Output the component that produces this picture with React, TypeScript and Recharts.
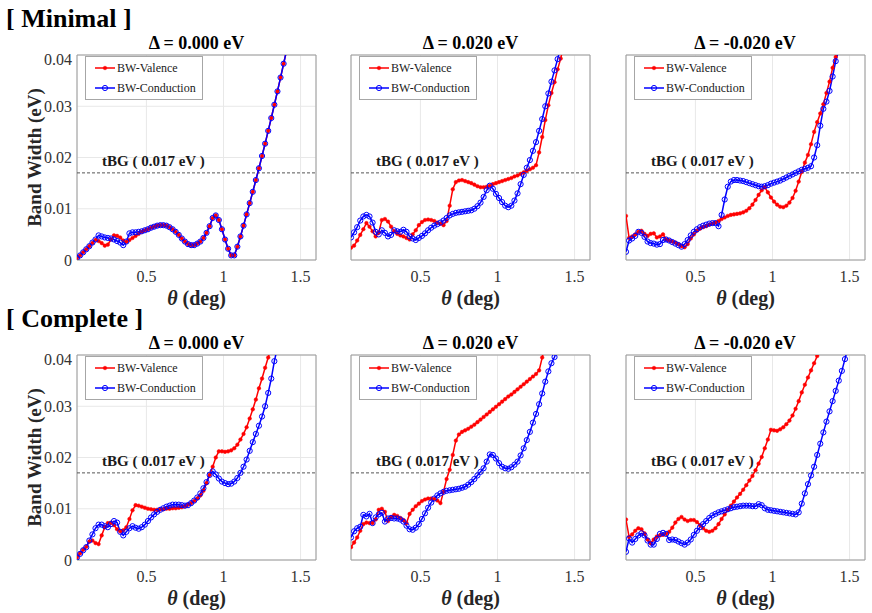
import React from 'react';
import { LineChart, Line, XAxis, YAxis, CartesianGrid, ReferenceLine, ReferenceArea, Legend } from 'recharts';

// twist angle theta (deg)
const thetas = [
  0.05, 0.07, 0.09, 0.11, 0.13, 0.15, 0.17, 0.19, 0.21, 0.23,
  0.25, 0.27, 0.29, 0.31, 0.33, 0.35, 0.37, 0.39, 0.41, 0.43,
  0.45, 0.47, 0.49, 0.51, 0.53, 0.55, 0.57, 0.59, 0.61, 0.63,
  0.65, 0.67, 0.69, 0.71, 0.73, 0.75, 0.77, 0.79, 0.81, 0.83,
  0.85, 0.87, 0.89, 0.91, 0.93, 0.95, 0.97, 0.99, 1.01, 1.03,
  1.05, 1.07, 1.09, 1.11, 1.13, 1.15, 1.17, 1.19, 1.21, 1.23,
  1.25, 1.27, 1.29, 1.31, 1.33, 1.35, 1.37, 1.39, 1.41, 1.43,
  1.45, 1.47, 1.49, 1.51,
];

const xTicks = [0.5, 1, 1.5];
const yTicks = [0, 0.01, 0.02, 0.03, 0.04];
const tbgWidth = 0.017;

// band widths in meV
const minimalZeroValence = [0.4,0.9,1.5,2.1,2.7,3.3,3.9,3.7,3.3,2.8,3.0,4.0,4.8,4.7,4.4,3.8,3.5,3.9,4.3,4.7,5.1,5.5,5.8,6.0,6.3,6.5,6.7,6.8,6.8,6.7,6.4,6.0,5.5,4.9,4.2,3.6,3.1,2.9,2.9,3.2,3.6,4.3,5.3,6.6,8.2,8.7,7.8,6.0,4.0,2.2,0.9,0.9,2.6,4.6,6.7,8.9,11.1,13.3,15.6,17.9,20.3,22.7,25.2,27.7,30.3,32.9,35.6,38.3,41.0];
const minimalZeroConduction = [0.4,0.9,1.5,2.1,2.7,3.4,4.0,4.8,4.6,4.4,4.3,4.2,4.0,3.7,3.4,2.9,3.6,5.2,5.4,5.4,5.5,5.6,5.8,6.0,6.3,6.5,6.7,6.8,6.8,6.7,6.4,6.0,5.5,4.9,4.2,3.6,3.1,2.9,2.9,3.2,3.6,4.3,5.3,6.6,8.2,8.7,7.8,6.0,4.0,2.2,0.9,0.9,2.6,4.6,6.7,8.9,11.1,13.3,15.6,17.9,20.3,22.7,25.2,27.7,30.3,32.9,35.6,38.3,41.0];

const minimalPosValence = [2.4,2.8,3.8,4.9,6.0,7.2,6.5,5.6,4.6,5.4,7.8,8.0,7.5,6.5,5.6,5.1,4.8,4.6,4.3,4.0,5.0,5.8,6.8,7.4,7.8,7.9,7.8,7.6,7.3,7.1,6.8,7.6,10.6,13.8,15.2,15.5,15.6,15.4,15.2,15.0,14.7,14.4,14.2,14.2,14.3,14.5,14.8,15.0,15.2,15.4,15.6,15.8,16.0,16.3,16.5,16.8,17.1,17.4,17.7,18.0,18.5,21.0,24.0,27.3,30.2,32.6,34.7,37.2,39.3,42.0];
const minimalPosConduction = [4.4,5.4,6.4,7.7,8.5,8.8,8.5,7.3,5.5,5.0,5.8,5.3,4.6,4.9,5.8,5.6,5.5,5.9,5.5,4.6,4.2,3.9,4.3,4.7,5.2,5.8,6.3,6.7,7.0,7.3,7.7,8.2,8.7,9.0,9.2,9.3,9.4,9.5,9.6,9.7,10.0,10.5,11.2,12.3,13.6,14.5,13.9,12.9,12.1,11.3,10.6,10.3,10.6,11.6,13.0,14.8,16.6,18.0,19.5,21.3,23.0,25.2,27.5,30.0,32.5,34.8,37.0,39.2,41.5];

const minimalNegValence = [8.6,4.3,4.6,5.0,5.5,5.7,5.1,4.7,5.1,5.2,4.4,4.6,5.0,4.0,3.8,3.6,3.4,3.1,2.7,2.5,3.1,4.2,5.0,5.7,6.1,6.4,6.6,6.9,7.1,7.3,7.6,8.0,8.3,8.6,8.8,8.9,9.0,9.1,9.3,9.6,10.1,10.8,11.7,12.7,13.6,14.2,13.2,12.2,11.4,10.8,10.4,10.3,10.6,11.2,12.1,13.5,15.3,17.2,19.0,20.5,22.6,25.0,26.9,28.6,30.4,32.6,34.8,37.5,39.6,42.0];
const minimalNegConduction = [1.6,3.8,4.2,4.7,5.5,5.3,4.5,3.6,3.3,3.2,3.0,3.1,3.9,4.0,3.8,3.5,3.2,2.9,2.6,3.1,3.9,4.8,5.5,6.0,6.4,6.7,6.9,7.1,7.2,7.2,6.6,8.8,11.8,14.3,15.3,15.6,15.6,15.5,15.4,15.2,15.0,14.8,14.6,14.4,14.3,14.4,14.6,14.9,15.1,15.3,15.5,15.8,16.1,16.4,16.7,17.0,17.3,17.6,17.8,18.0,18.3,20.0,22.4,26.2,29.5,30.9,33.0,35.8,38.8,41.0];

const completeZeroValence = [0.5,1.3,2.0,2.6,3.6,3.8,3.3,3.1,4.8,6.4,7.2,7.3,6.8,6.0,5.6,5.8,6.4,8.0,9.7,10.7,10.6,10.4,10.2,10.0,9.9,9.8,9.8,9.9,9.9,10.0,10.0,10.1,10.1,10.2,10.3,10.5,10.8,11.1,11.5,12.0,12.6,13.5,15.0,16.6,18.2,20.0,21.2,21.2,21.1,21.2,21.4,21.8,22.5,23.5,24.6,25.9,27.6,29.4,31.3,33.5,35.4,37.5,39.5,41.5];
const completeZeroConduction = [0.5,1.2,1.9,2.5,3.8,5.0,6.2,6.9,6.9,6.6,6.4,7.0,7.6,7.3,5.5,4.8,5.5,6.2,6.6,6.3,6.1,6.4,6.9,7.6,8.3,8.9,9.4,9.8,10.1,10.4,10.6,10.8,10.8,10.8,10.7,10.6,10.7,11.1,11.6,12.2,13.0,14.0,15.2,16.6,17.3,16.7,15.9,15.3,15.0,14.8,14.9,15.3,16.0,17.0,18.2,19.6,21.3,23.0,24.6,26.2,28.0,30.0,32.6,35.4,38.8,41.5];

const completePosValence = [2.5,3.4,4.4,5.7,7.0,7.3,7.2,7.2,7.9,9.8,10.0,9.4,7.6,8.4,8.8,8.6,8.2,7.8,7.2,9.0,9.8,10.5,11.0,11.5,11.8,12.0,12.0,11.9,11.6,11.1,13.3,15.8,17.6,20.5,23.3,24.5,25.0,25.3,25.6,26.0,26.4,26.9,27.4,27.9,28.4,28.9,29.4,29.9,30.4,30.9,31.4,31.9,32.3,32.8,33.3,33.8,34.3,34.8,35.3,35.8,36.3,37.0,39.5,42.0];
const completePosConduction = [4.4,5.6,6.2,6.5,8.8,8.5,9.0,7.2,8.3,8.9,9.2,7.5,8.1,8.2,8.1,8.1,7.9,7.5,6.7,6.0,5.9,6.3,7.0,8.0,9.1,10.2,11.2,12.0,12.6,13.0,13.3,13.5,13.6,13.7,13.8,13.9,14.1,14.3,14.7,15.2,15.8,16.5,17.2,17.9,19.2,20.6,20.5,19.8,18.9,18.2,17.9,17.8,18.1,18.6,19.2,20.4,21.8,23.4,25.0,26.8,28.5,30.4,32.5,34.8,36.8,38.4,39.6,41.5];

const completeNegValence = [7.9,4.5,5.0,5.7,6.2,6.0,5.2,4.0,3.3,4.0,4.6,4.8,4.9,5.1,5.5,6.3,7.3,8.0,8.4,7.9,7.6,7.8,7.8,7.4,6.8,6.2,5.7,5.5,5.7,6.2,7.0,8.0,8.9,9.8,10.6,11.4,12.2,12.9,13.7,14.6,15.5,16.4,17.5,18.8,20.1,21.8,23.5,25.4,25.3,25.2,25.5,25.9,26.5,27.2,28.2,29.5,31.0,32.7,34.2,35.6,37.0,38.4,39.8,41.5];
const completeNegConduction = [1.6,4.2,3.4,4.1,4.8,5.2,4.8,3.8,3.0,3.0,4.1,5.1,5.3,5.1,3.9,4.0,3.9,3.6,3.3,3.0,3.4,4.0,4.9,5.7,6.4,7.0,7.6,8.2,8.7,9.0,9.3,9.5,9.7,9.9,10.1,10.3,10.4,10.5,10.6,10.6,10.6,10.5,10.5,10.9,10.7,10.1,9.8,9.7,9.6,9.5,9.4,9.3,9.2,9.1,9.0,8.9,9.3,11.0,13.0,14.8,16.5,18.2,20.5,22.7,24.9,27.0,29.0,31.0,33.0,35.0,36.9,39.2,41.5];

const FONT = '"Liberation Serif", "Times New Roman", Times, serif';
const PLOT_W = 239;
const PLOT_H = 205;
const M_TOP = 5;
const M_RIGHT = 5;
const X_H = 54;
const RED = '#ff0000';
const BLUE = '#0000ff';

const TbgLabel = (props: any) => {
  const vb = props.viewBox || { x: 0, y: 0 };
  return (
    <text x={vb.x + 25} y={vb.y - 7} fontFamily={FONT} fontSize={15} fontWeight="bold" fill="#1a1a1a">
      tBG ( 0.017 eV )
    </text>
  );
};

const XLabel = (props: any) => {
  const vb = props.viewBox || { x: 0, y: 0, width: 0 };
  return (
    <text x={vb.x + vb.width / 2} y={vb.y + 45} textAnchor="middle" fontFamily={FONT} fontSize={20} fontWeight="bold" fill="#262626">
      <tspan fontStyle="italic">θ</tspan> (deg)
    </text>
  );
};

const YLabel = (props: any) => {
  const vb = props.viewBox || { x: 0, y: 0, height: 0 };
  const cx = vb.x + 34;
  const cy = vb.y + vb.height / 2;
  return (
    <text x={cx} y={cy} transform={`rotate(-90 ${cx} ${cy})`} textAnchor="middle" dominantBaseline="central" fontFamily={FONT} fontSize={19} fontWeight="bold" fill="#262626">
      Band Width (eV)
    </text>
  );
};

const LegendBox = () => (
  <svg width={118} height={44} style={{ display: 'block' }}>
    <rect x={0.5} y={0.5} width={117} height={43} fill="#ffffff" stroke="#a6a6a6" strokeWidth={1} />
    <line x1={10} y1={12} x2={30} y2={12} stroke={RED} strokeWidth={1.5} />
    <circle cx={20} cy={12} r={1.8} fill={RED} stroke={RED} strokeWidth={0.5} />
    <text x={32} y={16} fontFamily={FONT} fontSize={12} fill="#1a1a1a">BW-Valence</text>
    <line x1={10} y1={32} x2={30} y2={32} stroke={BLUE} strokeWidth={1.5} />
    <circle cx={20} cy={32} r={2.6} fill="none" stroke={BLUE} strokeWidth={1} />
    <text x={32} y={36} fontFamily={FONT} fontSize={12} fill="#1a1a1a">BW-Conduction</text>
  </svg>
);

type PanelProps = {
  left: number;
  top: number;
  valence: number[];
  conduction: number[];
  showY: boolean;
};

function Panel({ left, top, valence, conduction, showY }: PanelProps) {
  const yW = showY ? 77 : 10;
  const data = thetas.map((t, i) => ({
    theta: t,
    val: valence[i] !== undefined ? valence[i] / 1000 : null,
    con: conduction[i] !== undefined ? conduction[i] / 1000 : null,
  }));
  return (
    <div style={{ position: 'absolute', left: left - yW, top: top - M_TOP }}>
      <LineChart
        width={yW + PLOT_W + M_RIGHT}
        height={M_TOP + PLOT_H + X_H}
        data={data}
        margin={{ top: M_TOP, right: M_RIGHT, bottom: 0, left: 0 }}
      >
        <CartesianGrid stroke="#e8e8e8" strokeWidth={1} />
        <XAxis
          dataKey="theta"
          type="number"
          domain={[0.05, 1.6]}
          ticks={xTicks}
          allowDataOverflow
          height={X_H}
          axisLine={false}
          tickLine={false}
          tickSize={6}
          tickMargin={5}
          tick={{ fontFamily: FONT, fontSize: 16, fill: '#333333' }}
          label={<XLabel />}
        />
        <YAxis
          type="number"
          domain={[0, 0.04]}
          ticks={yTicks}
          allowDataOverflow
          width={yW}
          axisLine={false}
          tickLine={false}
          tickSize={3}
          tickMargin={2}
          tick={showY ? { fontFamily: FONT, fontSize: 16, fill: '#333333' } : false}
          label={showY ? <YLabel /> : undefined}
        />
        <ReferenceLine y={tbgWidth} stroke="#555555" strokeWidth={1} strokeDasharray="3 2" label={<TbgLabel />} />
        <Line
          dataKey="val"
          stroke={RED}
          strokeWidth={1.5}
          dot={{ r: 1.8, fill: RED, stroke: RED, strokeWidth: 0.5 }}
          activeDot={false}
          isAnimationActive={false}
        />
        <Line
          dataKey="con"
          stroke={BLUE}
          strokeWidth={1.5}
          dot={{ r: 2.6, fill: 'none', stroke: BLUE, strokeWidth: 1 }}
          activeDot={false}
          isAnimationActive={false}
        />
        <ReferenceArea x1={0.05} x2={1.6} y1={0} y2={0.04} fill="none" stroke="#9a9a9a" strokeWidth={1} />
        <Legend
          layout="vertical"
          align="center"
          verticalAlign="middle"
          wrapperStyle={{ left: yW + 8, top: M_TOP + 1, width: 118, height: 44 }}
          content={<LegendBox />}
        />
      </LineChart>
    </div>
  );
}

const panelLefts = [77, 351, 625.5];
const rowTops = [55, 355];
const panelTitles = ['Δ = 0.000 eV', 'Δ = 0.020 eV', 'Δ = -0.020 eV'];
const sectionTitles = ['[ Minimal ]', '[ Complete ]'];

export default function App() {
  const rows = [
    [
      [minimalZeroValence, minimalZeroConduction],
      [minimalPosValence, minimalPosConduction],
      [minimalNegValence, minimalNegConduction],
    ],
    [
      [completeZeroValence, completeZeroConduction],
      [completePosValence, completePosConduction],
      [completeNegValence, completeNegConduction],
    ],
  ];
  return (
    <div style={{ position: 'absolute', left: 0, top: 0, width: 872, height: 613, background: '#ffffff', overflow: 'hidden' }}>
      <svg width={872} height={613} style={{ position: 'absolute', left: 0, top: 0 }}>
        {sectionTitles.map((t, r) => (
          <text key={t} x={6} y={rowTops[r] - 28} fontFamily={FONT} fontSize={26} fontWeight="bold" fill="#000000">
            {t}
          </text>
        ))}
        {rowTops.map((top, r) =>
          panelTitles.map((t, c) => (
            <text
              key={`${r}-${c}`}
              x={panelLefts[c] + PLOT_W / 2}
              y={top - 6}
              textAnchor="middle"
              fontFamily={FONT}
              fontSize={18}
              fontWeight="bold"
              fill="#000000"
            >
              {t}
            </text>
          ))
        )}
      </svg>
      {rows.map((row, r) =>
        row.map(([v, c], ci) => (
          <Panel key={`${r}-${ci}`} left={panelLefts[ci]} top={rowTops[r]} valence={v} conduction={c} showY={ci === 0} />
        ))
      )}
    </div>
  );
}
